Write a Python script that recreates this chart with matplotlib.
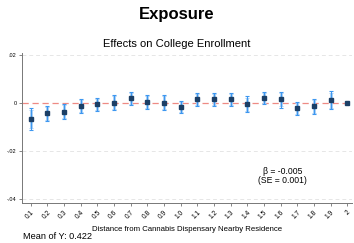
import matplotlib
matplotlib.use("Agg")
import matplotlib.pyplot as plt
import numpy as np

plt.rcParams['font.family'] = ['Liberation Sans', 'DejaVu Sans']

labels = ["0.1","0.2","0.3","0.4","0.5","0.6","0.7","0.8","0.9","1.0",
          "1.1","1.2","1.3","1.4","1.5","1.6","1.7","1.8","1.9","2"]
coef = [-0.0068,-0.0043,-0.0036,-0.0011,-0.0006,-0.0001,0.0020,0.0005,0.0001,-0.0015,
        0.0015,0.0015,0.0015,-0.0006,0.0022,0.0015,-0.0021,-0.0012,0.0011,0.0]
ci_hi = [-0.0021,-0.0011,-0.0003,0.0018,0.0020,0.0032,0.0047,0.0035,0.0032,0.0010,
         0.0042,0.0043,0.0040,0.0028,0.0047,0.0047,0.0006,0.0018,0.0049,0.0]
ci_lo = [-0.0113,-0.0075,-0.0068,-0.0043,-0.0032,-0.0030,-0.0007,-0.0026,-0.0029,-0.0042,
         -0.0012,-0.0014,-0.0012,-0.0039,-0.0003,-0.0019,-0.0051,-0.0046,-0.0026,0.0]
yticks = [0.02, 0.0, -0.02, -0.04]
ytick_labels = [".02", "0", "-.02", "-.04"]

fig = plt.figure(figsize=(3.54, 2.43), dpi=100)
ax = fig.add_axes([0.0621, 0.1646, 0.932, 0.6173])

x = np.arange(1, len(labels) + 1)
coef = np.array(coef); hi = np.array(ci_hi); lo = np.array(ci_lo)
mid = (hi + lo) / 2; half = (hi - lo) / 2
has_ci = half > 0

for yv in yticks:
    if yv != 0:
        ax.axhline(yv, color="#e6e6e6", lw=0.7, ls=(0, (4, 3)), zorder=0)
ax.axhline(0, color="#ee8a84", lw=0.9, ls=(0, (5, 3)), zorder=1)

# inner (90%) band
ax.errorbar(x[has_ci], mid[has_ci], yerr=half[has_ci] * 0.84, fmt="none",
            ecolor="#a9d0f6", elinewidth=2.0, capsize=1.7, capthick=0.7, zorder=2)
# outer (95%) thin line
ax.errorbar(x[has_ci], mid[has_ci], yerr=half[has_ci], fmt="none",
            ecolor="#3d97f0", elinewidth=0.8, capsize=1.7, capthick=0.8, zorder=3)
ax.plot(x, coef, "s", color="#1c3f66", ms=2.2, zorder=4)

ax.set_xlim(0.478, 20.28)
ax.set_ylim(-0.04167, 0.0208)
ax.set_yticks(yticks)
ax.set_yticklabels(ytick_labels, fontsize=4.0)
ax.set_xticks(x)
ax.set_xticklabels(labels, fontsize=4.8, rotation=45, ha="right", rotation_mode="anchor")
ax.tick_params(axis="both", length=2.5, width=0.5, color="#555555", pad=1.5)
for s in ["top", "right"]:
    ax.spines[s].set_visible(False)
for s in ["left", "bottom"]:
    ax.spines[s].set_linewidth(0.7)
    ax.spines[s].set_color("#777777")

ax.set_xlabel("Distance from Cannabis Dispensary Nearby Residence", fontsize=5.6, labelpad=4)
ax.text(16.1, -0.0304, "β = -0.005\n(SE = 0.001)", fontsize=6.2, ha="center", va="center",
        linespacing=0.95)

fig.text(0.5, 0.942, "Exposure", fontsize=12, fontweight="bold", ha="center", va="center")
fig.text(0.5, 0.818, "Effects on College Enrollment", fontsize=8, ha="center", va="center")
fig.text(0.066, 0.028, "Mean of Y: 0.422", fontsize=6.6, ha="left", va="center")

fig.savefig("out.png", dpi=100)
